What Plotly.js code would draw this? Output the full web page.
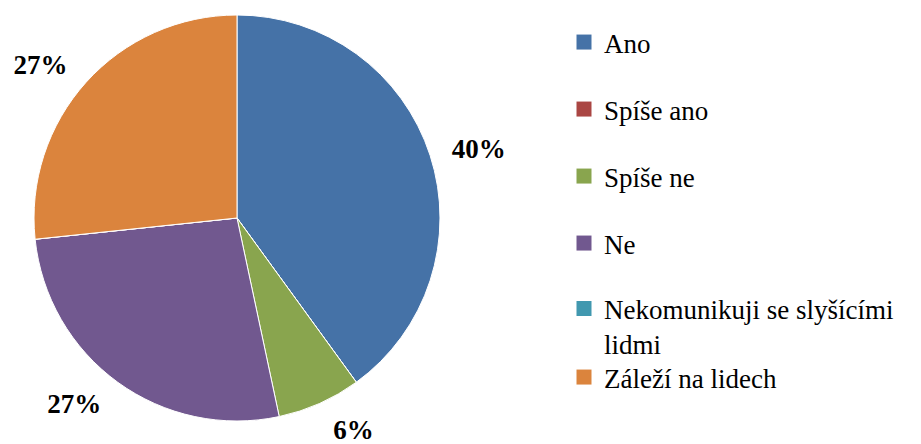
<!DOCTYPE html>
<html>
<head>
<meta charset="utf-8">
<script src="https://cdn.plot.ly/plotly-3.0.1.min.js"></script>
<style>
    html, body { margin: 0; padding: 0; background: #ffffff; }
    #chart { width: 921px; height: 444px; }
    /* force the serif face on every svg text Plotly draws */
    #chart text { font-family: 'Liberation Serif', serif !important; }
</style>
</head>
<body>
<div id="chart"></div>
<script>
// --- DATA ---
const categories = ['Ano', 'Spíše ano', 'Spíše ne', 'Ne', 'Nekomunikuji se slyšícími<br>lidmi', 'Záleží na lidech'];
const counts = [6, 0, 1, 4, 0, 4];
const percentLabels = ['40%', '', '6%', '27%', '', '27%'];
const sliceColors = ['#4572A7', '#AA4643', '#89A54E', '#71588F', '#4198AF', '#DB843D'];

const SERIF = 'Liberation Serif, serif';

// pie centre (237, 218 from top), radius 203; labels sit on a slightly wider ring
const CX = 237, CY = 444 - 218, R = 203, R_LABEL = 218;

// --- PIE ---
const pieTrace = {
    type: 'pie',
    labels: categories,
    values: counts,
    textinfo: 'none',
    sort: false,
    direction: 'clockwise',
    rotation: 0,
    marker: { colors: sliceColors, line: { color: '#ffffff', width: 1 } },
    domain: { x: [(CX - R) / 921, (CX + R) / 921], y: [(CY - R) / 444, (CY + R) / 444] },
    showlegend: false,
    hoverinfo: 'label+percent'
};

// transparent twin carrying the percentage labels a bit further out
const labelTrace = {
    type: 'pie',
    labels: categories,
    values: counts,
    text: percentLabels,
    textinfo: 'text',
    textposition: 'outside',
    textfont: { family: SERIF, size: 27, color: '#000000', weight: 'bold' },
    sort: false,
    direction: 'clockwise',
    rotation: 0,
    marker: { colors: categories.map(() => 'rgba(0,0,0,0)'), line: { width: 0 } },
    domain: { x: [(CX - R_LABEL) / 921, (CX + R_LABEL) / 921], y: [(CY - R_LABEL) / 444, Math.min(1, (CY + R_LABEL) / 444)] },
    automargin: false,
    showlegend: false,
    hoverinfo: 'skip'
};

// legend entries: one invisible marker trace per category, each in its own legend
const legendTraces = categories.map((name, i) => ({
    type: 'scatter',
    mode: 'markers',
    x: [null],
    y: [null],
    name: name,
    marker: { symbol: 'square', size: 15, color: sliceColors[i] },
    legend: i === 0 ? 'legend' : 'legend' + (i + 1)
}));

const layout = {
    width: 921,
    height: 444,
    margin: { l: 0, r: 0, t: 0, b: 0 },
    paper_bgcolor: '#ffffff',
    plot_bgcolor: '#ffffff',
    xaxis: { visible: false },
    yaxis: { visible: false }
};

categories.forEach((name, i) => {
    const key = i === 0 ? 'legend' : 'legend' + (i + 1);
    const lines = name.split('<br>').length;
    layout[key] = {
        x: 564 / 921,
        xanchor: 'left',
        y: 1 - (42.5 + i * 67 + (lines - 1) * 16) / 444,
        yanchor: 'middle',
        valign: 'top',
        bgcolor: 'rgba(0,0,0,0)',
        borderwidth: 0,
        font: { family: SERIF, size: 27, color: '#000000' }
    };
});

Plotly.newPlot('chart', [pieTrace, labelTrace, ...legendTraces], layout, { displayModeBar: false });
</script>
</body>
</html>
